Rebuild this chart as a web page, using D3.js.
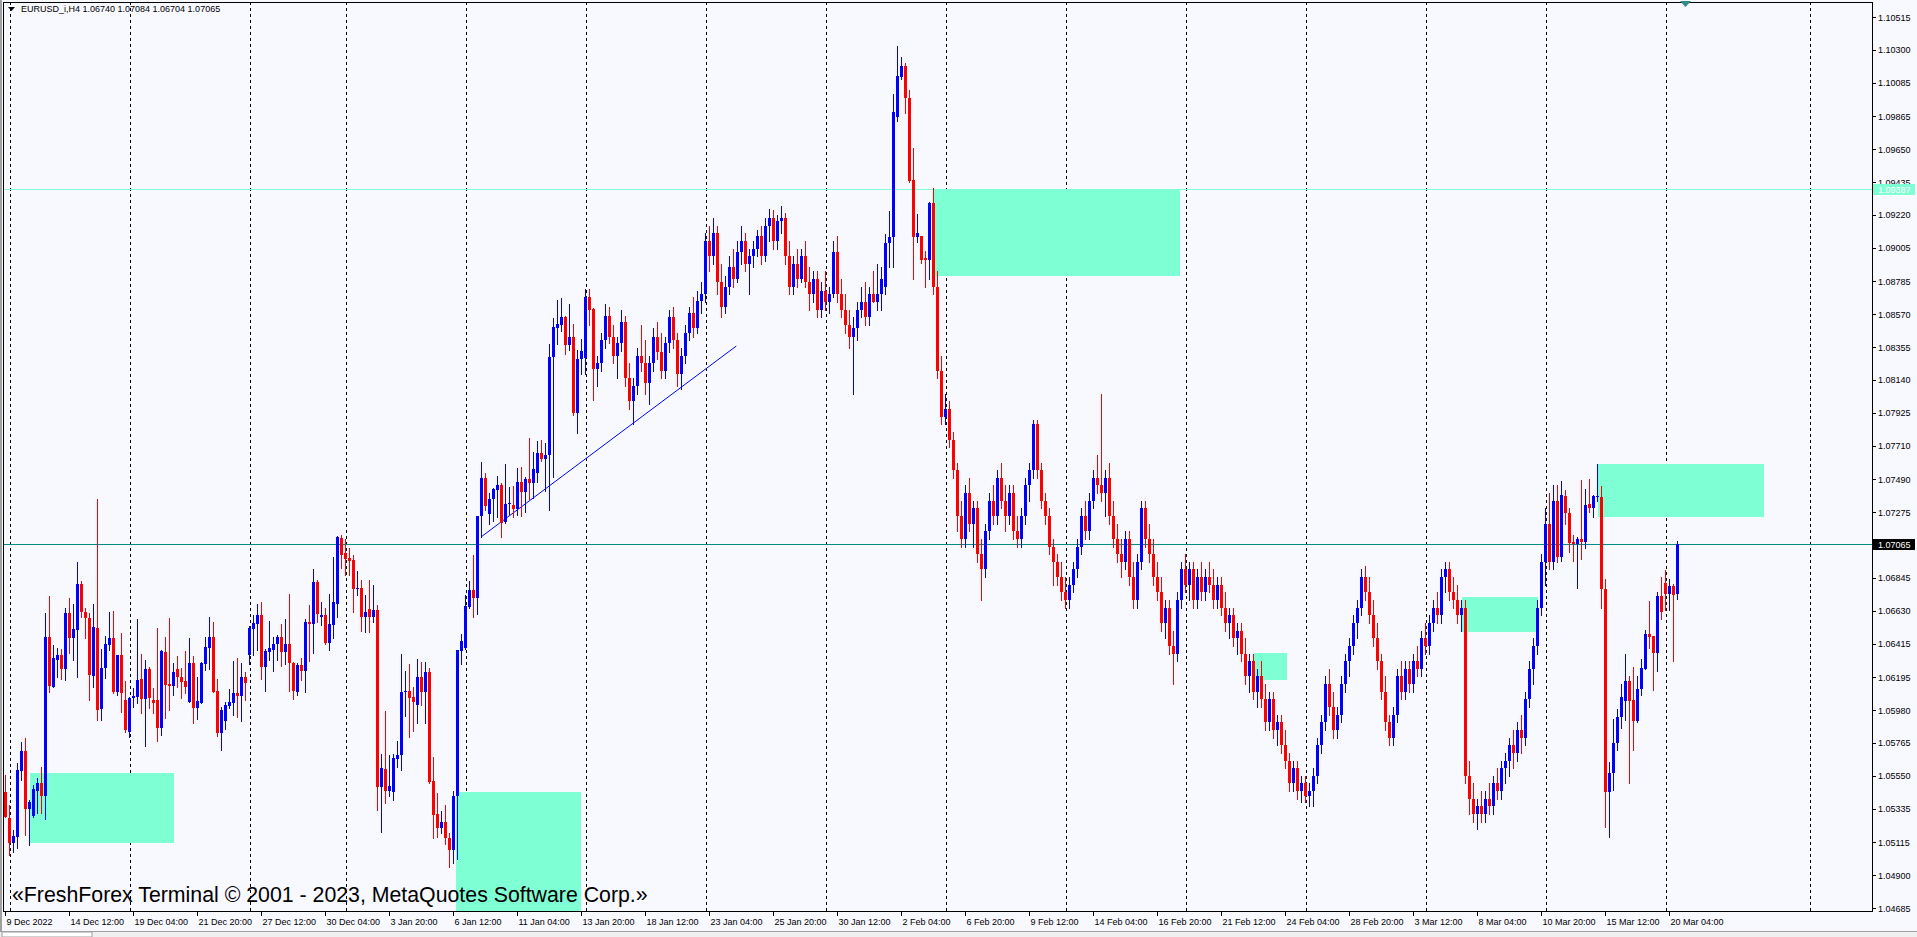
<!DOCTYPE html>
<html><head><meta charset="utf-8">
<script src="https://cdn.jsdelivr.net/npm/d3@7"></script>
<style>
html,body{margin:0;padding:0;background:#F8F8FF;overflow:hidden}
svg{display:block}
text{font-family:"Liberation Sans",Arial,sans-serif}
</style></head><body>
<svg id="c" width="1917" height="937"></svg>
<script>
const symbolTitle = "EURUSD_i,H4  1.06740 1.07084 1.06704 1.07065";
const copyright = "\u00ABFreshForex Terminal \u00A9 2001 - 2023, MetaQuotes Software Corp.\u00BB";
const timeLabels = ["9 Dec 2022","14 Dec 12:00","19 Dec 04:00","21 Dec 20:00","27 Dec 12:00","30 Dec 04:00","3 Jan 20:00","6 Jan 12:00","11 Jan 04:00","13 Jan 20:00","18 Jan 12:00","23 Jan 04:00","25 Jan 20:00","30 Jan 12:00","2 Feb 04:00","6 Feb 20:00","9 Feb 12:00","14 Feb 04:00","16 Feb 20:00","21 Feb 12:00","24 Feb 04:00","28 Feb 20:00","3 Mar 12:00","8 Mar 04:00","10 Mar 20:00","15 Mar 12:00","20 Mar 04:00"];
const timeLabelStep = 16;
const priceTicks = [1.10515,1.10300,1.10085,1.09865,1.09650,1.09435,1.09220,1.09005,1.08785,1.08570,1.08355,1.08140,1.07925,1.07710,1.07490,1.07275,1.07065,1.06845,1.06630,1.06415,1.06195,1.05980,1.05765,1.05550,1.05335,1.05115,1.04900,1.04685];
const weekStartBars = [1,31,61,85,115,145,175,205,235,265,295,325,355,385,415,451];
// [open, high, low, close] per H4 bar
const ohlc = [
[1.05447,1.05556,1.05280,1.05283],[1.05272,1.05360,1.05032,1.05113],[1.05113,1.05196,1.05054,1.05157],[1.05152,1.05637,1.05080,1.05588],
[1.05584,1.05774,1.05523,1.05713],[1.05713,1.05800,1.05163,1.05333],[1.05333,1.05392,1.05098,1.05381],[1.05290,1.05490,1.05283,1.05464],
[1.05453,1.05538,1.05305,1.05501],[1.05501,1.05610,1.05305,1.05421],[1.05421,1.06618,1.05268,1.06461],[1.06461,1.06727,1.06101,1.06140],
[1.06134,1.06406,1.06129,1.06319],[1.06308,1.06385,1.06199,1.06341],[1.06341,1.06380,1.06184,1.06249],[1.06249,1.06651,1.06177,1.06618],
[1.06618,1.06716,1.06352,1.06454],[1.06454,1.06675,1.06308,1.06511],[1.06505,1.06952,1.06199,1.06806],[1.06806,1.06827,1.06592,1.06620],
[1.06620,1.06646,1.06450,1.06581],[1.06585,1.06618,1.06047,1.06210],[1.06206,1.06675,1.06134,1.06526],[1.06520,1.07362,1.05916,1.05981],
[1.05988,1.06378,1.05916,1.06254],[1.06254,1.06465,1.06193,1.06413],[1.06406,1.06620,1.06374,1.06450],[1.06450,1.06629,1.06090,1.06101],
[1.06097,1.06341,1.06079,1.06341],[1.06341,1.06483,1.05970,1.06090],[1.06047,1.06171,1.05839,1.05850],[1.05839,1.06068,1.05807,1.06057],
[1.06057,1.06123,1.06003,1.06073],[1.06068,1.06577,1.06029,1.06177],[1.06184,1.06348,1.05964,1.06053],[1.06053,1.06308,1.05748,1.06249],
[1.06249,1.06265,1.05992,1.06057],[1.06047,1.06123,1.05959,1.06029],[1.06047,1.06520,1.05780,1.05861],[1.05861,1.06374,1.05817,1.06367],
[1.06363,1.06461,1.05931,1.06145],[1.06151,1.06585,1.05981,1.06140],[1.06140,1.06291,1.06079,1.06232],[1.06249,1.06334,1.06129,1.06199],
[1.06199,1.06258,1.06057,1.06167],[1.06171,1.06367,1.06090,1.06134],[1.06036,1.06454,1.06031,1.06286],[1.06286,1.06337,1.05898,1.05992],
[1.05996,1.06199,1.05922,1.06040],[1.06029,1.06297,1.06025,1.06291],[1.06282,1.06461,1.06243,1.06395],[1.06389,1.06592,1.06249,1.06461],
[1.06461,1.06559,1.06097,1.06101],[1.06105,1.06184,1.05811,1.05833],[1.05833,1.06003,1.05719,1.05981],[1.05911,1.06036,1.05857,1.06014],
[1.06010,1.06118,1.05992,1.06036],[1.06029,1.06302,1.05948,1.06094],[1.06094,1.06323,1.05937,1.06075],[1.06075,1.06291,1.05909,1.06199],
[1.06199,1.06232,1.06046,1.06155],[1.06341,1.06531,1.06282,1.06520],[1.06511,1.06603,1.06341,1.06548],[1.06544,1.06675,1.06374,1.06603],
[1.06603,1.06690,1.06184,1.06265],[1.06265,1.06378,1.06105,1.06367],[1.06363,1.06565,1.06308,1.06385],[1.06374,1.06456,1.06236,1.06413],
[1.06413,1.06472,1.06308,1.06461],[1.06461,1.06544,1.06271,1.06363],[1.06363,1.06576,1.06282,1.06413],[1.06413,1.06740,1.06105,1.06286],
[1.06286,1.06297,1.06053,1.06105],[1.06097,1.06286,1.06079,1.06275],[1.06275,1.06319,1.06177,1.06236],[1.06236,1.06576,1.06097,1.06555],
[1.06555,1.06668,1.06302,1.06544],[1.06544,1.06904,1.06356,1.06821],[1.06821,1.06832,1.06555,1.06609],[1.06592,1.06685,1.06537,1.06603],
[1.06603,1.06646,1.06413,1.06417],[1.06421,1.06740,1.06374,1.06544],[1.06537,1.06984,1.06450,1.06690],[1.06675,1.07119,1.06587,1.07115],
[1.07104,1.07126,1.06908,1.06995],[1.07006,1.07098,1.06864,1.06969],[1.06973,1.07039,1.06864,1.06956],[1.06962,1.06995,1.06624,1.06773],
[1.06771,1.06890,1.06733,1.06782],[1.06782,1.06832,1.06500,1.06592],[1.06592,1.06733,1.06494,1.06624],[1.06642,1.06832,1.06494,1.06592],
[1.06592,1.06799,1.06559,1.06635],[1.06635,1.06668,1.05327,1.05475],[1.05475,1.05693,1.05185,1.05599],[1.05593,1.05974,1.05370,1.05453],
[1.05453,1.05687,1.05421,1.05484],[1.05447,1.05693,1.05392,1.05665],[1.05660,1.05780,1.05605,1.05688],[1.05685,1.06349,1.05585,1.06098],
[1.06098,1.06236,1.05943,1.06106],[1.06106,1.06281,1.05805,1.06061],[1.06068,1.06131,1.05843,1.06031],[1.06011,1.06311,1.05893,1.06198],
[1.06198,1.06293,1.06011,1.06098],[1.06098,1.06293,1.05893,1.06231],[1.06231,1.06256,1.05505,1.05512],[1.05517,1.05672,1.05142,1.05292],
[1.05299,1.05435,1.05147,1.05209],[1.05209,1.05317,1.05179,1.05247],[1.05247,1.05360,1.05104,1.05141],[1.05141,1.05179,1.04954,1.05066],
[1.05066,1.05450,1.04980,1.05417],[1.05417,1.06374,1.05004,1.06374],[1.06369,1.06481,1.06281,1.06431],[1.06386,1.06732,1.06381,1.06661],
[1.06657,1.06827,1.06649,1.06769],[1.06769,1.06995,1.06589,1.06712],[1.06714,1.07250,1.06606,1.07250],[1.07250,1.07603,1.07112,1.07500],
[1.07500,1.07533,1.07290,1.07315],[1.07265,1.07400,1.07200,1.07363],[1.07358,1.07433,1.07220,1.07428],[1.07420,1.07513,1.07245,1.07453],
[1.07453,1.07463,1.07115,1.07202],[1.07212,1.07590,1.07202,1.07328],[1.07328,1.07440,1.07265,1.07338],[1.07320,1.07445,1.07245,1.07295],
[1.07295,1.07566,1.07257,1.07475],[1.07475,1.07570,1.07250,1.07408],[1.07408,1.07508,1.07275,1.07495],[1.07495,1.07763,1.07358,1.07463],
[1.07463,1.07666,1.07365,1.07558],[1.07533,1.07741,1.07470,1.07663],[1.07663,1.07746,1.07608,1.07621],[1.07621,1.07728,1.07415,1.07651],
[1.07651,1.08377,1.07290,1.08289],[1.08289,1.08547,1.07508,1.08489],[1.08477,1.08665,1.08377,1.08504],[1.08497,1.08677,1.08459,1.08552],
[1.08552,1.08560,1.08309,1.08367],[1.08367,1.08635,1.08334,1.08422],[1.08422,1.08509,1.07913,1.07926],[1.07926,1.08339,1.07796,1.08277],
[1.08277,1.08409,1.08176,1.08327],[1.08284,1.08735,1.08179,1.08680],[1.08680,1.08735,1.08497,1.08597],[1.08602,1.08610,1.08009,1.08209],
[1.08209,1.08300,1.08100,1.08250],[1.08250,1.08450,1.08200,1.08400],[1.08400,1.08640,1.08350,1.08560],[1.08560,1.08620,1.08380,1.08420],
[1.08420,1.08500,1.08250,1.08300],[1.08300,1.08420,1.08150,1.08380],[1.08380,1.08600,1.08330,1.08520],[1.08520,1.08560,1.08100,1.08150],
[1.08150,1.08250,1.07950,1.08000],[1.08000,1.08150,1.07850,1.08100],[1.08100,1.08350,1.08050,1.08300],[1.08300,1.08500,1.08200,1.08250],
[1.08250,1.08400,1.08050,1.08120],[1.08120,1.08300,1.07980,1.08250],[1.08250,1.08480,1.08200,1.08420],[1.08420,1.08520,1.08280,1.08320],
[1.08320,1.08450,1.08150,1.08200],[1.08200,1.08420,1.08150,1.08380],[1.08380,1.08600,1.08320,1.08550],[1.08550,1.08620,1.08350,1.08400],
[1.08400,1.08450,1.08100,1.08180],[1.08180,1.08350,1.08080,1.08300],[1.08300,1.08500,1.08250,1.08450],[1.08450,1.08620,1.08400,1.08580],
[1.08580,1.08680,1.08420,1.08480],[1.08480,1.08720,1.08450,1.08660],[1.08660,1.08780,1.08580,1.08700],[1.08700,1.09100,1.08650,1.09050],
[1.09050,1.09150,1.08850,1.08950],[1.08950,1.09200,1.08900,1.09100],[1.09100,1.09150,1.08700,1.08780],[1.08780,1.08900,1.08550,1.08620],
[1.08620,1.08820,1.08580,1.08750],[1.08750,1.08950,1.08700,1.08880],[1.08880,1.09000,1.08750,1.08800],[1.08800,1.09050,1.08780,1.08980],
[1.08980,1.09150,1.08900,1.09050],[1.09050,1.09100,1.08850,1.08900],[1.08900,1.09000,1.08700,1.08950],[1.08950,1.09050,1.08880,1.09000],
[1.09000,1.09120,1.08950,1.09080],[1.09080,1.09150,1.08900,1.08950],[1.08950,1.09200,1.08920,1.09150],[1.09150,1.09260,1.09050,1.09200],
[1.09200,1.09250,1.09000,1.09050],[1.09050,1.09220,1.09000,1.09180],[1.09180,1.09280,1.09100,1.09200],[1.09200,1.09230,1.08900,1.08950],
[1.08950,1.09050,1.08700,1.08750],[1.08750,1.08950,1.08700,1.08900],[1.08900,1.09000,1.08750,1.08800],[1.08800,1.09000,1.08780,1.08950],
[1.08950,1.09050,1.08750,1.08780],[1.08780,1.08880,1.08600,1.08700],[1.08700,1.08850,1.08650,1.08800],[1.08800,1.08850,1.08550,1.08600],
[1.08600,1.08780,1.08550,1.08720],[1.08720,1.08850,1.08600,1.08650],[1.08650,1.08750,1.08580,1.08700],[1.08700,1.09050,1.08680,1.08980],
[1.08980,1.09080,1.08650,1.08700],[1.08700,1.08800,1.08550,1.08600],[1.08600,1.08700,1.08450,1.08500],[1.08500,1.08600,1.08350,1.08420],
[1.08420,1.08550,1.08050,1.08480],[1.08480,1.08650,1.08400,1.08600],[1.08600,1.08750,1.08550,1.08650],[1.08650,1.08780,1.08500,1.08550],
[1.08550,1.08750,1.08500,1.08700],[1.08700,1.08850,1.08650,1.08650],[1.08650,1.08900,1.08600,1.08700],[1.08700,1.08880,1.08600,1.08800],
[1.08750,1.09095,1.08700,1.09039],[1.09034,1.09246,1.08881,1.09078],[1.09073,1.10011,1.08881,1.09896],[1.09863,1.10327,1.09837,1.10131],
[1.10125,1.10256,1.10109,1.10194],[1.10194,1.10216,1.09885,1.09983],[1.09983,1.10037,1.09433,1.09444],[1.09449,1.09660,1.08800,1.09078],
[1.09078,1.09226,1.09045,1.09104],[1.09082,1.09082,1.08903,1.08925],[1.08936,1.08986,1.08750,1.08925],[1.08925,1.09307,1.08800,1.09300],
[1.09296,1.09394,1.08700,1.08750],[1.08750,1.08850,1.08150,1.08200],[1.08200,1.08300,1.07850,1.07900],[1.07900,1.08050,1.07850,1.07950],
[1.07950,1.08000,1.07700,1.07750],[1.07750,1.07800,1.07500,1.07550],[1.07550,1.07600,1.07150,1.07250],[1.07250,1.07350,1.07050,1.07100],
[1.07100,1.07450,1.07050,1.07400],[1.07400,1.07500,1.07150,1.07200],[1.07200,1.07350,1.07050,1.07300],[1.07300,1.07350,1.06950,1.07000],
[1.07000,1.07100,1.06700,1.06900],[1.06900,1.07200,1.06850,1.07150],[1.07150,1.07400,1.07100,1.07350],[1.07350,1.07450,1.07200,1.07250],
[1.07250,1.07550,1.07200,1.07500],[1.07500,1.07600,1.07300,1.07350],[1.07350,1.07450,1.07150,1.07250],[1.07250,1.07450,1.07200,1.07400],
[1.07400,1.07450,1.07100,1.07150],[1.07150,1.07250,1.07050,1.07100],[1.07100,1.07300,1.07050,1.07250],[1.07250,1.07500,1.07200,1.07450],
[1.07450,1.07600,1.07350,1.07550],[1.07550,1.07880,1.07500,1.07850],[1.07850,1.07880,1.07500,1.07550],[1.07550,1.07600,1.07300,1.07350],
[1.07350,1.07400,1.07200,1.07250],[1.07250,1.07300,1.07000,1.07050],[1.07050,1.07100,1.06800,1.06950],[1.06950,1.07000,1.06800,1.06850],
[1.06850,1.06950,1.06700,1.06750],[1.06750,1.06850,1.06650,1.06700],[1.06700,1.06850,1.06650,1.06800],[1.06800,1.06950,1.06750,1.06900],
[1.06900,1.07100,1.06850,1.07050],[1.07050,1.07300,1.07000,1.07250],[1.07250,1.07350,1.07100,1.07150],[1.07150,1.07400,1.07100,1.07350],
[1.07350,1.07550,1.07300,1.07500],[1.07500,1.07650,1.07400,1.07450],[1.07450,1.08050,1.07350,1.07400],[1.07400,1.07550,1.07250,1.07500],
[1.07500,1.07600,1.07200,1.07250],[1.07250,1.07350,1.07050,1.07100],[1.07100,1.07200,1.06950,1.07000],[1.07000,1.07100,1.06850,1.06950],
[1.06950,1.07150,1.06900,1.07100],[1.07100,1.07150,1.06800,1.06850],[1.06850,1.06950,1.06650,1.06700],[1.06700,1.07000,1.06650,1.06950],
[1.06950,1.07350,1.06900,1.07300],[1.07300,1.07350,1.07050,1.07100],[1.07100,1.07200,1.06950,1.07000],[1.07000,1.07100,1.06800,1.06850],
[1.06850,1.06950,1.06700,1.06750],[1.06750,1.06850,1.06500,1.06550],[1.06550,1.06700,1.06450,1.06650],[1.06650,1.06700,1.06350,1.06400],
[1.06400,1.06500,1.06150,1.06350],[1.06350,1.06750,1.06300,1.06700],[1.06700,1.06950,1.06650,1.06900],[1.06900,1.07000,1.06750,1.06800],
[1.06800,1.06950,1.06700,1.06900],[1.06900,1.06950,1.06650,1.06700],[1.06700,1.06900,1.06650,1.06850],[1.06850,1.06950,1.06700,1.06750],
[1.06750,1.06900,1.06700,1.06850],[1.06850,1.06950,1.06750,1.06800],[1.06800,1.06900,1.06650,1.06700],[1.06700,1.06850,1.06650,1.06800],
[1.06800,1.06850,1.06600,1.06650],[1.06650,1.06750,1.06500,1.06550],[1.06550,1.06650,1.06450,1.06600],[1.06600,1.06650,1.06400,1.06450],
[1.06450,1.06550,1.06350,1.06500],[1.06500,1.06550,1.06300,1.06350],[1.06350,1.06450,1.06150,1.06200],[1.06200,1.06350,1.06100,1.06300],
[1.06300,1.06350,1.06050,1.06100],[1.06100,1.06250,1.06000,1.06200],[1.06200,1.06300,1.06000,1.06050],[1.06050,1.06150,1.05850,1.05900],
[1.05900,1.06100,1.05850,1.06050],[1.06050,1.06100,1.05800,1.05850],[1.05850,1.05950,1.05750,1.05900],[1.05900,1.05950,1.05700,1.05750],
[1.05750,1.05850,1.05600,1.05650],[1.05650,1.05700,1.05450,1.05500],[1.05500,1.05650,1.05450,1.05600],[1.05600,1.05650,1.05400,1.05450],
[1.05450,1.05550,1.05380,1.05500],[1.05500,1.05550,1.05380,1.05420],[1.05420,1.05500,1.05350,1.05450],[1.05450,1.05600,1.05350,1.05550],
[1.05550,1.05800,1.05500,1.05750],[1.05750,1.05950,1.05700,1.05900],[1.05900,1.06200,1.05850,1.06150],[1.06150,1.06250,1.05950,1.06000],
[1.06000,1.06100,1.05800,1.05850],[1.05850,1.06000,1.05800,1.05950],[1.05950,1.06200,1.05900,1.06150],[1.06150,1.06350,1.06100,1.06300],
[1.06300,1.06450,1.06200,1.06400],[1.06400,1.06600,1.06350,1.06550],[1.06550,1.06700,1.06450,1.06650],[1.06650,1.06900,1.06600,1.06850],
[1.06850,1.06920,1.06700,1.06750],[1.06750,1.06850,1.06550,1.06600],[1.06600,1.06700,1.06400,1.06450],[1.06450,1.06550,1.06250,1.06300],
[1.06300,1.06350,1.06050,1.06100],[1.06100,1.06200,1.05850,1.05900],[1.05900,1.05950,1.05750,1.05800],[1.05800,1.06000,1.05750,1.05950],
[1.05950,1.06250,1.05900,1.06200],[1.06200,1.06300,1.06050,1.06100],[1.06100,1.06300,1.06050,1.06250],[1.06250,1.06300,1.06100,1.06150],
[1.06150,1.06350,1.06100,1.06300],[1.06300,1.06400,1.06200,1.06250],[1.06250,1.06500,1.06200,1.06450],[1.06450,1.06550,1.06350,1.06400],
[1.06400,1.06600,1.06350,1.06550],[1.06550,1.06700,1.06500,1.06650],[1.06650,1.06750,1.06550,1.06600],[1.06600,1.06900,1.06550,1.06850],
[1.06850,1.06950,1.06750,1.06900],[1.06900,1.06950,1.06700,1.06750],[1.06750,1.06850,1.06650,1.06700],[1.06700,1.06800,1.06550,1.06600],
[1.06600,1.06700,1.06500,1.06650],[1.06650,1.06700,1.05500,1.05550],[1.05550,1.05650,1.05300,1.05400],[1.05400,1.05500,1.05250,1.05300],
[1.05300,1.05400,1.05200,1.05350],[1.05350,1.05450,1.05250,1.05300],[1.05300,1.05450,1.05250,1.05400],[1.05400,1.05500,1.05300,1.05350],
[1.05350,1.05550,1.05300,1.05500],[1.05500,1.05600,1.05400,1.05450],[1.05450,1.05650,1.05400,1.05600],[1.05600,1.05700,1.05500,1.05650],
[1.05650,1.05800,1.05550,1.05750],[1.05750,1.05850,1.05600,1.05700],[1.05700,1.05900,1.05650,1.05850],[1.05850,1.05950,1.05700,1.05800],
[1.05800,1.06100,1.05750,1.06050],[1.06050,1.06300,1.06000,1.06250],[1.06250,1.06450,1.06150,1.06400],[1.06400,1.06700,1.06350,1.06650],
[1.06650,1.07000,1.06600,1.06950],[1.06950,1.07300,1.06800,1.07200],[1.07200,1.07400,1.06900,1.06950],[1.06950,1.07450,1.06900,1.07350],
[1.07350,1.07450,1.06950,1.06980],[1.06979,1.07479,1.06957,1.07387],[1.07381,1.07420,1.07197,1.07267],[1.07267,1.07300,1.07016,1.07075],
[1.07082,1.07125,1.06957,1.07067],[1.07067,1.07114,1.06776,1.07099],[1.07099,1.07485,1.06968,1.07082],[1.07082,1.07426,1.07038,1.07322],
[1.07328,1.07492,1.07278,1.07304],[1.07304,1.07387,1.07245,1.07381],[1.07372,1.07590,1.07350,1.07381],[1.07372,1.07446,1.06645,1.06770],
[1.06770,1.06835,1.05213,1.05442],[1.05442,1.05638,1.05152,1.05566],[1.05566,1.05922,1.05457,1.05762],[1.05762,1.05985,1.05719,1.05932],
[1.05932,1.06150,1.05865,1.06063],[1.06041,1.06347,1.05915,1.06170],[1.06170,1.06203,1.05500,1.06041],[1.06046,1.06260,1.05719,1.05911],
[1.05911,1.06203,1.05900,1.06118],[1.06116,1.06314,1.06079,1.06253],[1.06251,1.06504,1.06246,1.06478],[1.06478,1.06694,1.06388,1.06460],
[1.06465,1.06465,1.06111,1.06356],[1.06356,1.06755,1.06238,1.06726],[1.06726,1.06853,1.06576,1.06624],[1.06809,1.06896,1.06635,1.06739],
[1.06739,1.06835,1.06635,1.06792],[1.06792,1.06805,1.06303,1.06733],[1.06740,1.07084,1.06704,1.07065]
];
// supply/demand zones: [fromBar, toBar, priceTop, priceBottom]
const zones = [
[6, 42, 1.05566, 1.05109],
[112.5, 143.8, 1.05447, 1.04500],
[232.2, 293.6, 1.09387, 1.08820],
[312, 320.4, 1.06354, 1.06177],
[364.2, 383.2, 1.06720, 1.06491],
[398, 439.6, 1.07590, 1.07245]
];
const levelPrices = [1.09387, 1.07065];
const levelColors = ["#7FFFD4", "#008B8B"];
const trendFrom = [119, 1.07115];
const trendTo = [182.7, 1.08362];

const svg = d3.select("#c");
const P = {left:3, top:2, right:1872, bottom:911};
const x = d3.scaleLinear().domain([0, 418]).range([5.5, 1677.5]);
const y = d3.scaleLinear().domain([1.04685, 1.10515]).range([908, 17]);

svg.append("rect").attr("width",1917).attr("height",937).attr("fill","#F8F8FF");
svg.append("defs").append("clipPath").attr("id","plot")
  .append("rect").attr("x",P.left+1).attr("y",P.top+1).attr("width",P.right-P.left-1).attr("height",P.bottom-P.top-1);
const g = svg.append("g").attr("clip-path","url(#plot)").attr("shape-rendering","crispEdges");

// week grid
g.selectAll("line.grid").data(weekStartBars).join("line")
  .attr("x1",d=>Math.round(x(d))+0.5).attr("x2",d=>Math.round(x(d))+0.5)
  .attr("y1",P.top).attr("y2",P.bottom)
  .attr("stroke","#000").attr("stroke-width",1).attr("stroke-dasharray","3,3");

// zones
g.selectAll("rect.zone").data(zones).join("rect")
  .attr("x",d=>Math.round(x(d[0]))).attr("width",d=>Math.round(x(d[1]))-Math.round(x(d[0])))
  .attr("y",d=>Math.round(y(d[2]))).attr("height",d=>Math.round(y(d[3]))-Math.round(y(d[2])))
  .attr("fill","#7FFFD4");

// horizontal levels
g.selectAll("line.level").data(levelPrices).join("line")
  .attr("x1",P.left).attr("x2",P.right)
  .attr("y1",d=>Math.round(y(d))+0.5).attr("y2",d=>Math.round(y(d))+0.5)
  .attr("stroke",(d,i)=>levelColors[i]).attr("stroke-width",1);

// trend line
g.append("line")
  .attr("x1",x(trendFrom[0])).attr("y1",y(trendFrom[1]))
  .attr("x2",x(trendTo[0])).attr("y2",y(trendTo[1]))
  .attr("stroke","#0000FF").attr("stroke-width",1).attr("shape-rendering","auto");

// candles
const c = g.selectAll("g.candle").data(ohlc).join("g");
c.append("line")
  .attr("x1",(d,i)=>x(i)).attr("x2",(d,i)=>x(i))
  .attr("y1",d=>Math.round(y(d[1]))).attr("y2",d=>Math.round(y(d[2]))+1)
  .attr("stroke",d=>d[3]>=d[0]?"#0000FF":"#FF0000").attr("stroke-width",1);
c.append("rect")
  .attr("x",(d,i)=>x(i)-1.5).attr("width",3)
  .attr("y",d=>Math.round(y(Math.max(d[0],d[3]))))
  .attr("height",d=>Math.max(1,Math.round(y(Math.min(d[0],d[3])))-Math.round(y(Math.max(d[0],d[3])))))
  .attr("fill",d=>d[3]>=d[0]?"#0000FF":"#FF0000");

// frame
const fr = svg.append("g").attr("shape-rendering","crispEdges");
fr.append("rect").attr("x",0).attr("y",0).attr("width",2).attr("height",931).attr("fill","#A0A0A0");
fr.append("line").attr("x1",3.5).attr("x2",3.5).attr("y1",P.top).attr("y2",P.bottom).attr("stroke","#000");
fr.append("line").attr("x1",P.left).attr("x2",P.right+1).attr("y1",P.top+0.5).attr("y2",P.top+0.5).attr("stroke","#000");
fr.append("line").attr("x1",P.right+0.5).attr("x2",P.right+0.5).attr("y1",P.top).attr("y2",P.bottom+1).attr("stroke","#000");
fr.append("line").attr("x1",P.left).attr("x2",P.right+1).attr("y1",P.bottom+0.5).attr("y2",P.bottom+0.5).attr("stroke","#000");

// price axis
const pa = svg.append("g");
pa.selectAll("line").data(priceTicks).join("line")
  .attr("x1",P.right).attr("x2",P.right+4)
  .attr("y1",d=>Math.round(y(d))+0.5).attr("y2",d=>Math.round(y(d))+0.5)
  .attr("stroke","#000").attr("shape-rendering","crispEdges");
pa.selectAll("text").data(priceTicks).join("text")
  .attr("x",P.right+6).attr("y",d=>y(d)+3.5)
  .attr("font-size","9px").attr("fill","#000").text(d=>d.toFixed(5));

// highlighted price labels
const tagBg = ["#7FFFD4","#000000"];
const tags = svg.append("g");
levelPrices.forEach((p,i)=>{
  const yy = Math.round(y(p));
  tags.append("rect").attr("x",P.right+1).attr("y",yy-5).attr("width",42).attr("height",11).attr("fill",tagBg[i]).attr("shape-rendering","crispEdges");
  tags.append("text").attr("x",P.right+6).attr("y",yy+4).attr("font-size","9px").attr("fill","#FFFFFF").text(p.toFixed(5));
});

// time axis
const ta = svg.append("g");
const tBars = timeLabels.map((t,i)=>i*timeLabelStep);
ta.selectAll("line").data(tBars).join("line")
  .attr("x1",d=>x(d)).attr("x2",d=>x(d)).attr("y1",P.bottom).attr("y2",P.bottom+5)
  .attr("stroke","#000").attr("shape-rendering","crispEdges");
ta.selectAll("text").data(timeLabels).join("text")
  .attr("x",(d,i)=>x(tBars[i])+1).attr("y",925)
  .attr("font-size","9px").attr("fill","#000").text(d=>d);

// title
svg.append("path").attr("d","M8,7 L15,7 L11.5,11 Z").attr("fill","#000");
svg.append("text").attr("x",21).attr("y",12).attr("font-size","9px").attr("fill","#000").text(symbolTitle);

// shift marker
svg.append("path").attr("d","M1680,1 L1691,1 L1685.5,7 Z").attr("fill","#2E8B8B");

// copyright
svg.append("text").attr("x",12).attr("y",902).attr("font-size","21.3px").attr("fill","#000").text(copyright);

// bottom tab strip
svg.append("rect").attr("x",0).attr("y",931).attr("width",1917).attr("height",6).attr("fill","#F0F0F0");
svg.append("line").attr("x1",0).attr("x2",1917).attr("y1",931.5).attr("y2",931.5).attr("stroke","#A0A0A0");
svg.append("rect").attr("x",2).attr("y",932).attr("width",90).attr("height",5).attr("fill","#FFFFFF").attr("stroke","#A0A0A0");
</script>
</body></html>
